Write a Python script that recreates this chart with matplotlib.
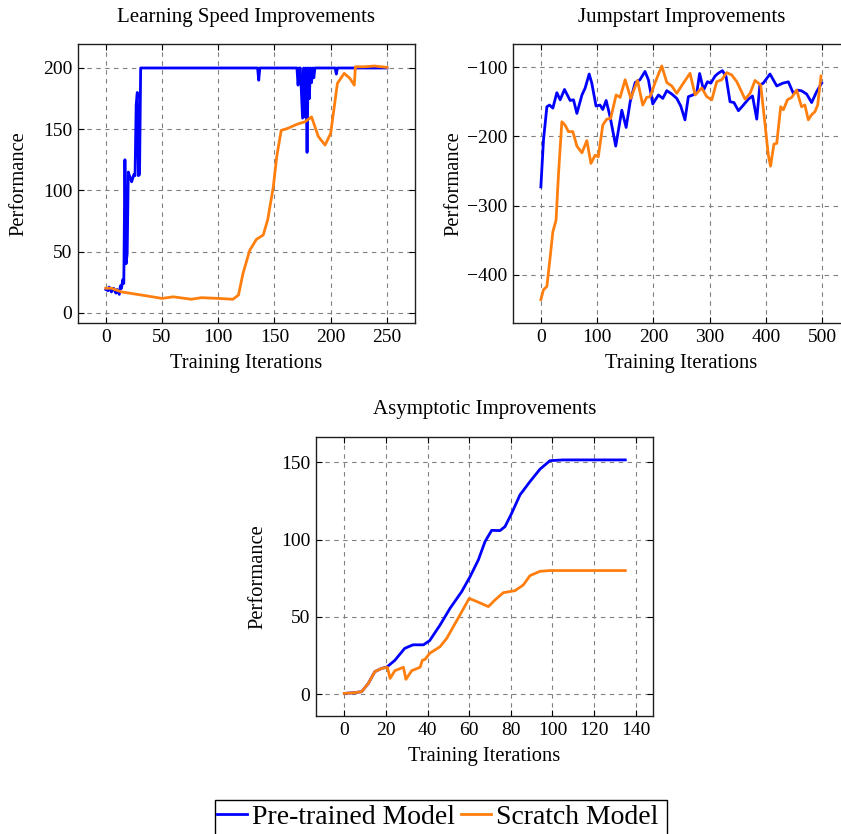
import matplotlib
matplotlib.use("Agg")
import matplotlib.pyplot as plt
from matplotlib.lines import Line2D
from matplotlib.patches import Rectangle

plt.rcParams['font.family'] = ['Liberation Serif', 'DejaVu Serif']

BLUE = '#0000ff'
ORANGE = '#ff7f0e'

# ---------------- Learning Speed Improvements ----------------
ls_pre_x = [0, 2, 3, 5, 7, 9, 10, 12, 13, 14, 15, 16, 17, 18, 19, 20, 21, 22, 23, 24, 25, 26,
            27, 28, 29, 30, 31, 135, 136, 137, 170, 171, 172, 173, 175, 176, 177, 178, 179,
            180, 181, 182, 183, 184, 185, 186, 204, 205, 206, 250]
ls_pre_y = [19, 18, 21, 17, 20, 16, 19, 15, 22, 20, 27, 24, 125, 40, 48, 115, 112, 110, 107, 110,
            113, 112, 170, 180, 112, 113, 200, 200, 190, 200, 200, 186, 200, 200, 159, 200, 160,
            200, 131, 200, 175, 200, 188, 200, 192, 200, 200, 195, 200, 200]

ls_scr_x = [0, 5, 14, 32, 50, 60, 76, 85, 100, 113, 118, 122, 128, 134, 140, 144, 149, 152, 156,
            162, 170, 177, 183, 189, 195, 200, 206, 212, 217, 221, 222, 230, 239, 250]
ls_scr_y = [20, 20, 17, 14.4, 11.7, 13, 11, 12.3, 11.7, 11, 14.4, 32, 51, 60, 63.5, 76, 103, 127.5,
            149, 150.7, 154, 156, 160, 144, 137, 146.6, 187.5, 195.6, 191.6, 186, 201, 201, 201.6,
            200.5]

# ---------------- Jumpstart Improvements ----------------
js_pre_x = [0, 4.7, 10.7, 15.4, 21.3, 28.4, 34.3, 42, 52, 58, 64, 73, 78.7, 85.8, 90.5, 98, 105,
            110, 116, 123, 133, 143.8, 151.5, 158.6, 167.5, 176, 185, 191, 198.8, 208.9, 216.6,
            223.7, 232.5, 241.4, 248.5, 256, 262, 270, 277, 282, 289, 296, 301.8, 309.5, 315,
            322.5, 329, 336, 343, 350.9, 359.8, 368.6, 376, 383.5, 389, 395, 407, 419, 429.6,
            439.6, 448.5, 455.6, 463, 472, 481, 490, 498.8]
js_pre_y = [-273, -205, -157, -154.6, -159, -136.7, -147, -132, -148, -147, -166.7, -140, -130,
            -109.7, -123, -156, -154.6, -161, -148, -171.5, -214, -162, -187, -150, -122, -118,
            -106, -118, -153, -140, -145, -133.8, -138.6, -145, -156, -176, -142.5, -140, -136.7,
            -109, -132.9, -120.8, -123, -112.6, -108.7, -104.8, -113.5, -149.8, -151, -162.8,
            -154.6, -146, -141.5, -175, -125.6, -123, -109.7, -127, -123, -121, -137.7, -133,
            -134, -138.6, -151, -135, -123]

js_scr_x = [0, 4.7, 10.7, 16.6, 21.3, 27, 31.4, 37.3, 43, 49, 56.8, 64, 73, 81.7, 89, 96.4, 102,
            110, 117, 124, 133.7, 140.8, 149.7, 159.8, 171.6, 181, 188, 194, 203, 214.8, 223.7,
            232.5, 241.4, 253, 265, 274, 285.8, 294.7, 303.6, 312.4, 321.3, 330, 339, 348, 362.7,
            371.6, 380.5, 390.5, 398, 404, 408, 414, 419, 426, 430.8, 438, 445.6, 454.4, 463, 469,
            475, 481, 487, 491.7, 497.6]
js_scr_y = [-436, -421.7, -417, -374, -338, -321, -253.6, -178.7, -183.6, -193, -193, -214,
            -223.7, -206, -239, -227, -229.5, -183.6, -175, -174, -140, -143.5, -118, -145, -119,
            -154.6, -143.5, -142.5, -122, -98, -122, -127, -137.7, -123, -108.7, -140, -130,
            -142.5, -147, -120.8, -118, -107.7, -111, -120.8, -146, -137.7, -119, -125.6, -181,
            -227, -243, -211, -210, -157, -161.4, -147, -143.5, -133, -157, -154.6, -176, -168.6,
            -164, -154.6, -112.6]

# ---------------- Asymptotic Improvements ----------------
as_pre_x = [0, 4.3, 8.3, 11.5, 14.7, 18, 20.3, 24.3, 29, 33, 38, 41, 46, 50.8, 56.4, 60.4, 64.4,
            67.6, 70.8, 74.8, 77.2, 80.4, 84.4, 89.2, 94, 98.8, 105, 135]
as_pre_y = [0.6, 1, 1.7, 7, 14.7, 16.8, 17.5, 22, 29.7, 32, 32, 34.7, 44.8, 55.6, 66.4, 76, 86.9,
            98.7, 106, 105.8, 108.4, 117, 128.9, 137.5, 145.5, 151, 151.5, 151.5]

as_scr_x = [0, 4.3, 8.3, 11.5, 14.7, 18, 20.7, 22, 24.3, 28.4, 29.6, 32.4, 36.4, 37.5, 38.8, 41,
            46, 49.2, 54, 60, 63.6, 69.2, 72.4, 76.4, 82, 86, 89.2, 94, 98.8, 135]
as_scr_y = [0.6, 1, 1.7, 7, 14.7, 16.8, 17.5, 10.3, 15.3, 17.5, 9.7, 15.3, 17.5, 22, 22.6, 26.5,
            30.8, 36.2, 47.6, 62, 60, 56.7, 61, 65.7, 67, 70.7, 76.7, 79.5, 80, 80]

legend_labels = ['Pre-trained Model', 'Scratch Model']

W, H = 841, 834
FS_TICK = 14
FS_LAB = 14.8
FS_TITLE = 15
fig = plt.figure(figsize=(W / 100, H / 100), dpi=100)


def px_axes(left, top, right, bottom):
    return fig.add_axes([left / W, (H - bottom) / H, (right - left) / W, (bottom - top) / H])


def style(ax, title, xlim, ylim, xticks, yticks, wpx, hpx):
    ax.set_xlim(*xlim)
    ax.set_ylim(*ylim)
    ax.set_xticks(xticks)
    ax.set_yticks(yticks)
    ax.grid(True, color='#808080', linestyle=(0, (4, 4)), linewidth=0.8)
    ax.set_axisbelow(True)
    ax.tick_params(direction='in', top=True, right=True, length=4, width=0.8,
                   labelsize=FS_TICK, pad=4)
    for s in ax.spines.values():
        s.set_linewidth(1.0)
        s.set_color('#202020')
    ax.set_title(title, fontsize=FS_TITLE, pad=16)
    ax.set_xlabel('Training Iterations', fontsize=FS_LAB)
    ax.set_ylabel('Performance', fontsize=FS_LAB)
    ax.yaxis.set_label_coords(-49 / wpx, 0.5)
    ax.xaxis.set_label_coords(0.5, -31 / hpx)


LW = 2.0

ax1 = px_axes(77.7, 44, 415, 323)
ax1.plot(ls_pre_x, ls_pre_y, color=BLUE, lw=LW)
ax1.plot(ls_scr_x, ls_scr_y, color=ORANGE, lw=LW)
style(ax1, 'Learning Speed Improvements', (-25, 275), (-8.4, 219.6),
      range(0, 251, 50), range(0, 201, 50), 337.3, 279)

ax2 = px_axes(512.7, 44, 850.5, 323)
ax2.plot(js_pre_x, js_pre_y, color=BLUE, lw=LW)
ax2.plot(js_scr_x, js_scr_y, color=ORANGE, lw=LW)
style(ax2, 'Jumpstart Improvements', (-50, 550), (-469.8, -66.3),
      range(0, 501, 100), range(-400, -99, 100), 337.8, 279)

ax3 = px_axes(316, 436.7, 653, 716)
ax3.plot(as_pre_x, as_pre_y, color=BLUE, lw=LW)
ax3.plot(as_scr_x, as_scr_y, color=ORANGE, lw=LW)
style(ax3, 'Asymptotic Improvements', (-13.6, 148.3), (-14, 166.5),
      range(0, 141, 20), range(0, 151, 50), 337, 279.3)

handles = [Line2D([], [], color=BLUE, lw=LW), Line2D([], [], color=ORANGE, lw=LW)]
fig.legend(handles, legend_labels, loc='center',
           bbox_to_anchor=(438 / W, (H - 817) / H), ncol=2, fontsize=20,
           frameon=False, handlelength=1.08, handletextpad=0.18, columnspacing=0.22,
           borderpad=0, borderaxespad=0)
fig.patches.append(Rectangle((215 / W, -0.02), 452 / W, (H - 800) / H + 0.02,
                             transform=fig.transFigure, fill=False, edgecolor='black',
                             linewidth=1.0))

fig.savefig('out.png', dpi=100)
